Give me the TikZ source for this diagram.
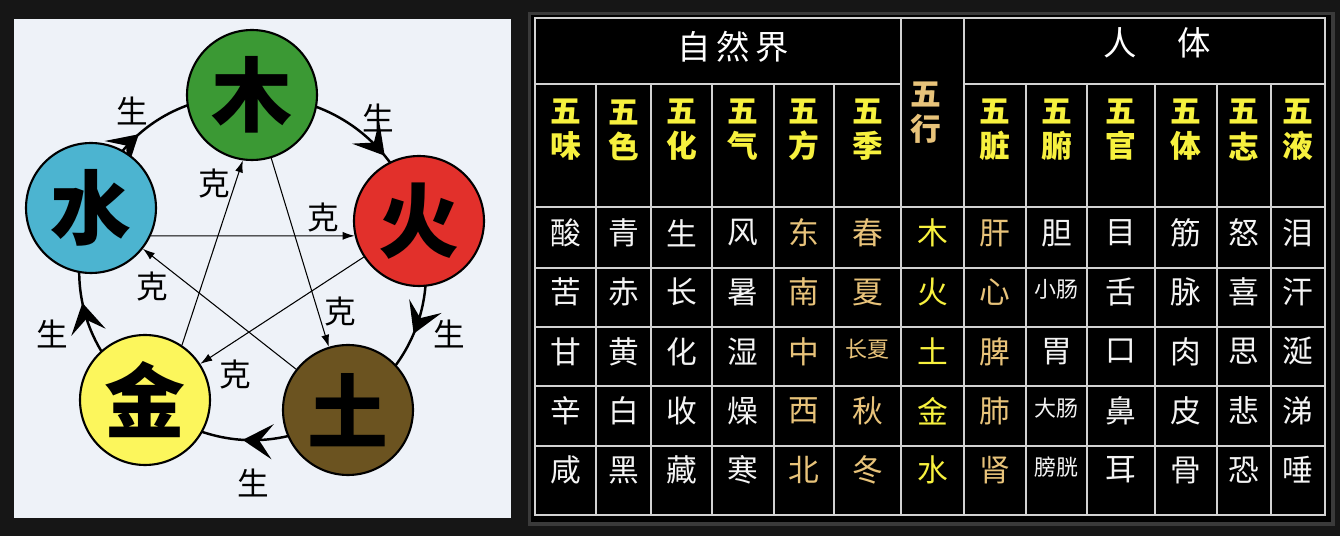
\documentclass[tikz,border=0pt]{standalone}
\usepackage{fontspec}
\newfontfamily\cjk{Noto Sans CJK SC}
\usetikzlibrary{arrows.meta,decorations.markings,backgrounds}

\definecolor{pagebg}{HTML}{161616}
\definecolor{panelbg}{HTML}{EEF2F8}
\definecolor{mugreen}{HTML}{3B9934}
\definecolor{huored}{HTML}{E2302B}
\definecolor{tubrown}{HTML}{6B5320}
\definecolor{jinyellow}{HTML}{FCF65C}
\definecolor{shuiblue}{HTML}{4CB4D0}
\definecolor{framegray}{HTML}{3A3A3A}
\definecolor{gridgray}{HTML}{D2D2D2}
\definecolor{hdyellow}{HTML}{F7F13E}
\definecolor{hdtan}{HTML}{E8C37A}
\definecolor{cellwhite}{HTML}{F4F4F4}

\newcommand\smallcell[1]{\raisebox{4pt}{\fontsize{12.5}{13}\selectfont #1}}

\begin{document}
\begin{tikzpicture}[x=0.02cm,y=-0.02cm,
  elem/.style={circle, draw=black, line width=1.2pt, minimum size=2.6cm, inner sep=0pt,
    font=\cjk\bfseries\fontsize{46}{46}\selectfont},
  sheng/.style={line width=1.4pt, postaction={decorate}, decoration={markings,
    mark=at position #1 with {\arrow{Stealth[length=6mm,width=7mm,inset=2.6mm]}}}},
  ke/.style={line width=0.6pt, -{Latex[length=2.4mm,width=1.6mm]}},
  lbl/.style={font=\cjk\fontsize{18}{18}\selectfont},
  tabline/.style={draw=gridgray, line width=0.7pt},
  cell/.style={font=\cjk\fontsize{17.5}{18}\selectfont, inner sep=0pt},
  subhead/.style={font=\cjk\bfseries\fontsize{17.5}{20}\selectfont, align=center, inner sep=0pt, text=hdyellow}]

  % the five elements
  \node[elem, fill=mugreen] (mu) at (252,95) {木};
  \node[elem, fill=huored] (huo) at (419,221) {火};
  \node[elem, fill=tubrown] (tu) at (348,410) {土};
  \node[elem, fill=jinyellow] (jin) at (145,400) {金};
  \node[elem, fill=shuiblue] (shui) at (91,208) {水};

  \begin{pgfonlayer}{background}
    \fill[pagebg] (0,0) rectangle (1340,536);
    \fill[panelbg] (14,19) rectangle (511,518);
    \draw[sheng=0.67] (mu.center) to[bend left=36] (huo.center);
    \draw[sheng=0.53] (huo.center) to[bend left=36] (tu.center);
    \draw[sheng=0.51] (tu.center) to[bend left=36] (jin.center);
    \draw[sheng=0.55] (jin.center) to[bend left=36] (shui.center);
    \draw[sheng=0.42] (shui.center) to[bend left=36] (mu.center);
  \end{pgfonlayer}

  \draw[ke] (mu) -- (tu);
  \draw[ke] (tu) -- (shui);
  \draw[ke] (shui.-25) -- (huo.-167);
  \draw[ke] (huo) -- (jin);
  \draw[ke] (jin.56) -- (mu.-98);

  \node[lbl] (s1) at (378,118) {生};
  \node[lbl] (s2) at (449,334) {生};
  \node[lbl] (s3) at (253,483) {生};
  \node[lbl] (s4) at (52,334) {生};
  \node[lbl] (s5) at (132,111) {生};
  \node[lbl] (k1) at (340,312) {克};
  \node[lbl] (k2) at (152,287) {克};
  \node[lbl] (k3) at (323,218) {克};
  \node[lbl] (k4) at (235,375) {克};
  \node[lbl] (k5) at (214,184) {克};

  % the table
  \fill[framegray] (528,12) rectangle (1335,526);
  \fill[black] (531,15) rectangle (1331,522);
  \draw[tabline] (535,18) rectangle (1325,515);
  \draw[tabline] (535,84) -- (901,84) (964,84) -- (1325,84);
  \foreach \y in {207,268,327,386,446}
    \draw[tabline] (535,\y) -- (1325,\y);
  \foreach \x in {901,964}
    \draw[tabline] (\x,18) -- (\x,515);
  \foreach \x in {596,651,712,774,834,1026,1087,1155,1217,1271}
    \draw[tabline] (\x,84) -- (\x,515);

  \node[font=\cjk\fontsize{19}{19}\selectfont, text=white] (ziran) at (733,47) {自\,然\,界};
  \node[font=\cjk\fontsize{19}{19}\selectfont, text=white] (renti) at (1157,43) {人\hspace{1.2em}体};
  \node[subhead, text=hdtan] (wuxing) at (926,113) {五\\行};
  \foreach \x/\t [count=\i] in {565.5/味,623.5/色,681.5/化,743/气,804/方,867.5/季,
      995/脏,1056.5/腑,1121/官,1186/体,1244/志,1298/液}
    \node[subhead] (h\i) at (\x,130) {五\\\t};

  \foreach \x/\c/\lst [count=\i] in {
      565.5/cellwhite/{酸,苦,甘,辛,咸},
      623.5/cellwhite/{青,赤,黄,白,黑},
      681.5/cellwhite/{生,长,化,收,藏},
      743/cellwhite/{风,暑,湿,燥,寒},
      804/hdtan/{东,南,中,西,北},
      867.5/hdtan/{春,夏,\smallcell{长夏},秋,冬},
      932.5/hdyellow/{木,火,土,金,水},
      995/hdtan/{肝,心,脾,肺,肾},
      1056.5/cellwhite/{胆,\smallcell{小肠},胃,\smallcell{大肠},\smallcell{膀胱}},
      1121/cellwhite/{目,舌,口,鼻,耳},
      1186/cellwhite/{筋,脉,肉,皮,骨},
      1244/cellwhite/{怒,喜,思,悲,恐},
      1298/cellwhite/{泪,汗,涎,涕,唾}}
    \foreach \t [count=\r] in \lst
      \node[cell, text=\c] (c\i-\r) at (\x,{233+59.25*(\r-1)}) {\t};
\end{tikzpicture}
\end{document}
